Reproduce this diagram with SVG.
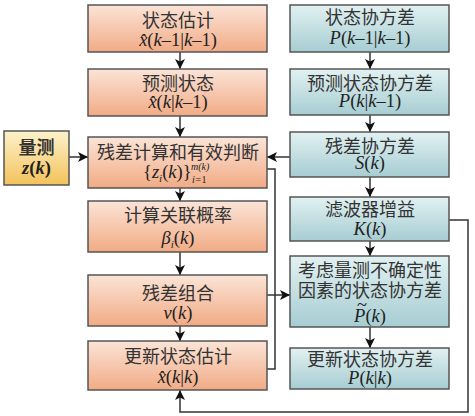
<svg xmlns="http://www.w3.org/2000/svg" width="475" height="416" viewBox="0 0 475 416">
<defs>
<linearGradient id="gL" x1="0" y1="0" x2="0" y2="1"><stop offset="0" stop-color="#fbe4d7"/><stop offset="1" stop-color="#f1ab85"/></linearGradient>
<linearGradient id="gR" x1="0" y1="0" x2="0" y2="1"><stop offset="0" stop-color="#e2f1f2"/><stop offset="1" stop-color="#a6cdd2"/></linearGradient>
<linearGradient id="gM" x1="0" y1="0" x2="0" y2="1"><stop offset="0" stop-color="#fdf2cc"/><stop offset="1" stop-color="#f3c25a"/></linearGradient>
<marker id="ah" viewBox="0 0 10 10" refX="10" refY="5" markerWidth="10" markerHeight="10" markerUnits="userSpaceOnUse" orient="auto"><path d="M0,0 L10,5 L0,10 L2.5,5 Z" fill="#111"/></marker>
</defs>
<style>
.bl{fill:url(#gL);stroke:#555;stroke-width:1.5}
.br{fill:url(#gR);stroke:#555;stroke-width:1.5}
.bm{fill:url(#gM);stroke:#555;stroke-width:1.5}
.cn{font-family:"Noto Sans CJK SC","Noto Sans CJK JP",sans-serif;font-size:18px;fill:#333;text-anchor:middle}
.mt{font-family:"Liberation Serif",serif;font-size:18.5px;fill:#222;text-anchor:middle}
.it{font-style:italic}
.sm{font-family:"Liberation Serif",serif;font-size:10px;fill:#222;font-style:italic}
.ln{fill:none;stroke:#333;stroke-width:1.5}
.ar{fill:none;stroke:#333;stroke-width:1.5;marker-end:url(#ah)}
</style>
<rect width="475" height="416" fill="#fff"/>
<g id="connectors">
<line class="ar" x1="180" y1="52" x2="180" y2="69"/>
<line class="ar" x1="180" y1="116" x2="180" y2="137"/>
<line class="ar" x1="180" y1="188" x2="180" y2="201"/>
<line class="ar" x1="180" y1="252" x2="180" y2="275"/>
<line class="ar" x1="180" y1="326" x2="180" y2="341"/>
<line class="ar" x1="370" y1="52" x2="370" y2="69"/>
<line class="ar" x1="370" y1="115" x2="370" y2="132"/>
<line class="ar" x1="370" y1="177" x2="370" y2="197"/>
<line class="ar" x1="370" y1="241" x2="370" y2="256"/>
<line class="ar" x1="370" y1="327" x2="370" y2="348"/>
<line class="ar" x1="69" y1="157" x2="88" y2="157"/>
<line class="ar" x1="290" y1="157" x2="267" y2="157"/>
<polyline class="ln" points="267,169 275,169 275,369 267,369"/>
<line class="ar" x1="267" y1="295" x2="290" y2="295"/>
<polyline class="ar" points="449,220 468,220 468,412 180,412 180,390"/>
</g>
<g id="n-state-est">
<rect class="bl" x="88" y="5" width="179" height="47"/>
<text class="cn" x="178" y="27">状态估计</text>
<text class="mt" x="178" y="46"><tspan class="it">x̂</tspan>(<tspan class="it">k</tspan>–1|<tspan class="it">k</tspan>–1)</text>
</g>
<g id="n-pred-state">
<rect class="bl" x="88" y="69" width="179" height="47"/>
<text class="cn" x="178" y="90">预测状态</text>
<text class="mt" x="178" y="108"><tspan class="it">x̂</tspan>(<tspan class="it">k</tspan>|<tspan class="it">k</tspan>–1)</text>
</g>
<g id="n-residual">
<rect class="bl" x="88" y="137" width="179" height="51"/>
<text class="cn" x="178" y="159">残差计算和有效判断</text>
<text class="mt" x="143" y="178" style="text-anchor:start">{<tspan class="it">z</tspan><tspan class="it" font-size="11" dy="4">i</tspan><tspan dy="-4">(</tspan><tspan class="it">k</tspan>)}</text>
<text class="sm" x="191" y="170">m(k)</text>
<text class="sm" x="192" y="183">i=<tspan font-style="normal">1</tspan></text>
</g>
<g id="n-assoc-prob">
<rect class="bl" x="88" y="201" width="179" height="51"/>
<text class="cn" x="178" y="222">计算关联概率</text>
<text class="mt" x="178" y="244"><tspan class="it">β</tspan><tspan class="it" font-size="11" dy="4">i</tspan><tspan dy="-4">(</tspan><tspan class="it">k</tspan>)</text>
</g>
<g id="n-residual-comb">
<rect class="bl" x="88" y="275" width="179" height="51"/>
<text class="cn" x="178" y="300">残差组合</text>
<text class="mt" x="178" y="319"><tspan class="it">ν</tspan>(<tspan class="it">k</tspan>)</text>
</g>
<g id="n-update-state">
<rect class="bl" x="88" y="341" width="179" height="49"/>
<text class="cn" x="178" y="363">更新状态估计</text>
<text class="mt" x="178" y="383"><tspan class="it">x̂</tspan>(<tspan class="it">k</tspan>|<tspan class="it">k</tspan>)</text>
</g>
<g id="n-measure">
<rect class="bm" x="4" y="131" width="65" height="54"/>
<text class="cn" x="36.5" y="154" font-weight="bold" font-size="19">量测</text>
<text class="mt" x="36.5" y="174" font-weight="bold" font-size="20"><tspan class="it">z</tspan>(<tspan class="it">k</tspan>)</text>
</g>
<g id="n-cov">
<rect class="br" x="290" y="5" width="159" height="47"/>
<text class="cn" x="370" y="24">状态协方差</text>
<text class="mt" x="370" y="44"><tspan class="it">P</tspan>(<tspan class="it">k</tspan>–1|<tspan class="it">k</tspan>–1)</text>
</g>
<g id="n-pred-cov">
<rect class="br" x="290" y="69" width="159" height="46"/>
<text class="cn" x="370" y="90">预测状态协方差</text>
<text class="mt" x="370" y="107"><tspan class="it">P</tspan>(<tspan class="it">k</tspan>|<tspan class="it">k</tspan>–1)</text>
</g>
<g id="n-res-cov">
<rect class="br" x="290" y="132" width="159" height="45"/>
<text class="cn" x="370" y="153">残差协方差</text>
<text class="mt" x="370" y="169"><tspan class="it">S</tspan>(<tspan class="it">k</tspan>)</text>
</g>
<g id="n-gain">
<rect class="br" x="290" y="197" width="159" height="44"/>
<text class="cn" x="370" y="216">滤波器增益</text>
<text class="mt" x="370" y="235"><tspan class="it">K</tspan>(<tspan class="it">k</tspan>)</text>
</g>
<g id="n-uncert-cov">
<rect class="br" x="290" y="256" width="159" height="71"/>
<text class="cn" x="370" y="277">考虑量测不确定性</text>
<text class="cn" x="370" y="297">因素的状态协方差</text>
<text class="mt" x="370" y="322"><tspan class="it">P</tspan>(<tspan class="it">k</tspan>)</text>
<text class="mt" x="362" y="311" font-size="14">~</text>
</g>
<g id="n-update-cov">
<rect class="br" x="290" y="348" width="159" height="41"/>
<text class="cn" x="370" y="366">更新状态协方差</text>
<text class="mt" x="370" y="384"><tspan class="it">P</tspan>(<tspan class="it">k</tspan>|<tspan class="it">k</tspan>)</text>
</g>
</svg>
